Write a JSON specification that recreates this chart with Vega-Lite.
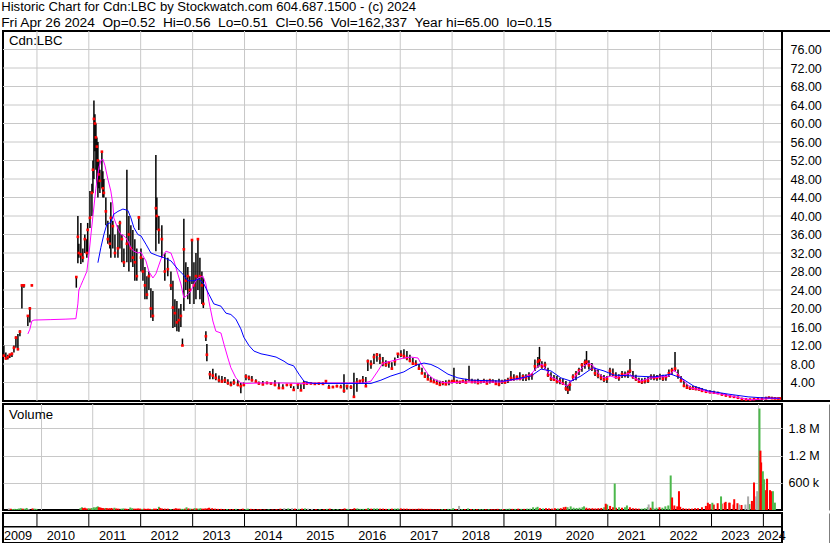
{
"$schema": "https://vega.github.io/schema/vega-lite/v6.json",
"background": "white",
"padding": {"left": 1, "top": 0, "right": 0, "bottom": 0},
"spacing": -1,
"resolve": {"scale": {"color": "independent"}},
"title": {"text": "Historic Chart for Cdn:LBC by Stockwatch.com 604.687.1500 - (c) 2024", "subtitle": "Fri Apr 26 2024\u00a0 Op=0.52\u00a0 Hi=0.56\u00a0 Lo=0.51\u00a0 Cl=0.56\u00a0 Vol=162,337\u00a0 Year hi=65.00\u00a0 lo=0.15", "anchor": "start", "frame": "bounds", "font": "Liberation Sans", "fontSize": 13.1, "fontWeight": "normal", "color": "black", "subtitleFont": "Liberation Sans", "subtitleFontSize": 13.7, "subtitleFontWeight": "normal", "subtitleColor": "black", "subtitlePadding": 2.1, "offset": -0.8},
"config": {
  "view": {"stroke": "black", "strokeWidth": 2},
  "font": "Liberation Sans",
  "axis": {"labelFont": "Liberation Sans", "labelColor": "black", "labelFontSize": 12.5, "labelOverlap": false, "gridColor": "#c8c8c8", "gridWidth": 1, "gridOpacity": 1, "domainColor": "black", "domainWidth": 2, "ticks": false, "tickSize": 0, "minExtent": 0}
},
"datasets": {
"px": [
{"d":"2009-05-13","h":12,"l":9.5,"c":9.8,"v":35000,"k":"n"},
{"d":"2009-05-27","h":10.5,"l":9,"c":9.2,"v":28000,"k":"d"},
{"d":"2009-06-10","h":10,"l":9,"c":9.5,"v":22000,"k":"u"},
{"d":"2009-06-24","h":10.2,"l":9.3,"c":10,"v":25000,"k":"u"},
{"d":"2009-07-09","h":10.5,"l":9.5,"c":10.2,"v":20000,"k":"u"},
{"d":"2009-07-23","h":12,"l":10.5,"c":11.5,"v":32000,"k":"u"},
{"d":"2009-08-06","h":14,"l":11.5,"c":13.7,"v":40000,"k":"u"},
{"d":"2009-08-20","h":14.5,"l":11,"c":11.2,"v":30000,"k":"d"},
{"d":"2009-09-03","h":15.3,"l":14,"c":15,"v":28000,"k":"u"},
{"d":"2009-09-17","h":25.1,"l":20,"c":25,"v":45000,"k":"u"},
{"d":"2009-10-01","h":25.2,"l":24.5,"c":25,"v":20000,"k":"n"},
{"d":"2009-10-29","h":18.6,"l":16.2,"c":18.4,"v":35000,"k":"d"},
{"d":"2009-11-12","h":20.3,"l":17,"c":20,"v":30000,"k":"u"},
{"d":"2009-11-26","h":25.1,"l":24.8,"c":25,"v":25000,"k":"u"},
{"d":"2010-10-05","h":27,"l":24.5,"c":26.8,"v":40000,"k":"u"},
{"d":"2010-10-16","h":40,"l":29.8,"c":35.5,"v":60000,"k":"u"},
{"d":"2010-10-23","h":34,"l":31,"c":32,"v":45000,"k":"d"},
{"d":"2010-11-06","h":38.5,"l":29.6,"c":31.7,"v":50000,"k":"d"},
{"d":"2010-11-20","h":33,"l":30,"c":31,"v":35000,"k":"d"},
{"d":"2010-12-04","h":36,"l":32,"c":35,"v":40000,"k":"u"},
{"d":"2010-12-18","h":35,"l":31,"c":32,"v":30000,"k":"d"},
{"d":"2010-12-24","h":38.5,"l":31.7,"c":37,"v":45000,"k":"u"},
{"d":"2011-01-09","h":45.4,"l":37.4,"c":39.6,"v":60000,"k":"u"},
{"d":"2011-01-23","h":47,"l":40,"c":45,"v":55000,"k":"u"},
{"d":"2011-01-30","h":52,"l":45,"c":50,"v":65000,"k":"u"},
{"d":"2011-02-06","h":65,"l":48,"c":61,"v":80000,"k":"u"},
{"d":"2011-02-13","h":62,"l":54,"c":60,"v":60000,"k":"d"},
{"d":"2011-02-20","h":60,"l":50,"c":57,"v":55000,"k":"d"},
{"d":"2011-02-27","h":57,"l":47,"c":55,"v":50000,"k":"d"},
{"d":"2011-03-06","h":56,"l":44,"c":52,"v":45000,"k":"d"},
{"d":"2011-03-13","h":52,"l":46,"c":49,"v":40000,"k":"d"},
{"d":"2011-03-20","h":50,"l":45,"c":47.6,"v":40000,"k":"d"},
{"d":"2011-04-03","h":54,"l":46,"c":53.9,"v":45000,"k":"u"},
{"d":"2011-04-10","h":49.7,"l":44,"c":46,"v":40000,"k":"d"},
{"d":"2011-04-17","h":48,"l":44,"c":45,"v":35000,"k":"d"},
{"d":"2011-05-01","h":44,"l":38,"c":41,"v":40000,"k":"d"},
{"d":"2011-05-15","h":39,"l":34,"c":35,"v":45000,"k":"d"},
{"d":"2011-05-29","h":36,"l":33,"c":34,"v":30000,"k":"d"},
{"d":"2011-06-05","h":43,"l":31,"c":39.6,"v":50000,"k":"u"},
{"d":"2011-06-19","h":39,"l":33,"c":37.8,"v":35000,"k":"d"},
{"d":"2011-07-04","h":36,"l":31,"c":32,"v":30000,"k":"d"},
{"d":"2011-07-25","h":38,"l":31,"c":33,"v":30000,"k":"u"},
{"d":"2011-08-08","h":39,"l":33,"c":38.5,"v":35000,"k":"u"},
{"d":"2011-08-22","h":36,"l":30,"c":35,"v":30000,"k":"d"},
{"d":"2011-09-05","h":33,"l":29,"c":30,"v":25000,"k":"d"},
{"d":"2011-09-26","h":50,"l":30,"c":34,"v":55000,"k":"u"},
{"d":"2011-10-10","h":40,"l":28,"c":36,"v":40000,"k":"u"},
{"d":"2011-10-24","h":38,"l":30,"c":33,"v":30000,"k":"d"},
{"d":"2011-11-07","h":37,"l":29,"c":31,"v":30000,"k":"d"},
{"d":"2011-11-21","h":35,"l":26,"c":30,"v":35000,"k":"d"},
{"d":"2011-12-05","h":33,"l":26,"c":27,"v":30000,"k":"d"},
{"d":"2011-12-19","h":40,"l":37,"c":39.7,"v":25000,"k":"u"},
{"d":"2012-01-03","h":33,"l":28,"c":31,"v":30000,"k":"d"},
{"d":"2012-01-17","h":31,"l":26,"c":28,"v":25000,"k":"d"},
{"d":"2012-01-31","h":29,"l":22,"c":25,"v":30000,"k":"d"},
{"d":"2012-02-14","h":27,"l":22,"c":23,"v":25000,"k":"d"},
{"d":"2012-02-28","h":28,"l":24,"c":27,"v":20000,"k":"u"},
{"d":"2012-03-13","h":24.4,"l":18,"c":20,"v":30000,"k":"d"},
{"d":"2012-03-27","h":23.8,"l":17.3,"c":18.4,"v":30000,"k":"d"},
{"d":"2012-04-17","h":53.2,"l":32.4,"c":41.7,"v":70000,"k":"u"},
{"d":"2012-04-24","h":44,"l":37,"c":40,"v":45000,"k":"d"},
{"d":"2012-05-08","h":40,"l":34,"c":37,"v":35000,"k":"d"},
{"d":"2012-05-29","h":38,"l":31,"c":35,"v":30000,"k":"d"},
{"d":"2012-06-19","h":32,"l":26,"c":28,"v":30000,"k":"d"},
{"d":"2012-07-10","h":31,"l":27,"c":28.5,"v":20000,"k":"u"},
{"d":"2012-08-01","h":28,"l":24,"c":25,"v":25000,"k":"d"},
{"d":"2012-08-15","h":26,"l":15.8,"c":20.2,"v":40000,"k":"d"},
{"d":"2012-08-29","h":22,"l":16,"c":19,"v":30000,"k":"d"},
{"d":"2012-09-12","h":21.6,"l":15.1,"c":17,"v":30000,"k":"d"},
{"d":"2012-09-26","h":20,"l":15,"c":17.5,"v":25000,"k":"u"},
{"d":"2012-10-10","h":21,"l":16,"c":18.4,"v":25000,"k":"u"},
{"d":"2012-10-21","h":13.5,"l":11.9,"c":12,"v":30000,"k":"d"},
{"d":"2012-10-31","h":39.4,"l":19.5,"c":32.8,"v":60000,"k":"u"},
{"d":"2012-11-14","h":30,"l":24,"c":26,"v":35000,"k":"d"},
{"d":"2012-11-28","h":29,"l":22,"c":27,"v":30000,"k":"u"},
{"d":"2012-12-12","h":27,"l":21,"c":24,"v":25000,"k":"d"},
{"d":"2012-12-27","h":35,"l":25.3,"c":34.8,"v":40000,"k":"u"},
{"d":"2013-01-10","h":30,"l":21,"c":25,"v":35000,"k":"d"},
{"d":"2013-01-24","h":32,"l":22,"c":27,"v":30000,"k":"u"},
{"d":"2013-02-07","h":35,"l":24,"c":35,"v":40000,"k":"u"},
{"d":"2013-02-21","h":31,"l":22,"c":27,"v":30000,"k":"d"},
{"d":"2013-03-07","h":28,"l":21,"c":25,"v":30000,"k":"d"},
{"d":"2013-03-17","h":26.6,"l":20.1,"c":21,"v":35000,"k":"d"},
{"d":"2013-04-04","h":15.1,"l":13,"c":14,"v":45000,"k":"d"},
{"d":"2013-04-11","h":12.3,"l":8.6,"c":10,"v":50000,"k":"d"},
{"d":"2013-05-02","h":6.5,"l":4.7,"c":5.8,"v":40000,"k":"d"},
{"d":"2013-05-23","h":7,"l":4.7,"c":5.5,"v":30000,"k":"d"},
{"d":"2013-06-13","h":6,"l":4.5,"c":5,"v":25000,"k":"d"},
{"d":"2013-07-05","h":5.5,"l":4,"c":4.5,"v":25000,"k":"d"},
{"d":"2013-07-26","h":5.4,"l":3.9,"c":4.2,"v":20000,"k":"d"},
{"d":"2013-08-16","h":5.2,"l":3.9,"c":4.5,"v":20000,"k":"u"},
{"d":"2013-09-06","h":4.7,"l":3.5,"c":3.9,"v":20000,"k":"d"},
{"d":"2013-09-27","h":4.2,"l":3.2,"c":3.5,"v":20000,"k":"d"},
{"d":"2013-10-18","h":4.7,"l":3.5,"c":4,"v":25000,"k":"u"},
{"d":"2013-11-15","h":4.5,"l":3.2,"c":3.5,"v":20000,"k":"d"},
{"d":"2013-12-06","h":3.9,"l":1.7,"c":3.2,"v":30000,"k":"d"},
{"d":"2013-12-27","h":4,"l":3.2,"c":3.5,"v":20000,"k":"u"},
{"d":"2014-01-11","h":5.8,"l":4.5,"c":5.3,"v":30000,"k":"u"},
{"d":"2014-02-01","h":5.5,"l":4.5,"c":5,"v":25000,"k":"d"},
{"d":"2014-02-22","h":5.4,"l":4.2,"c":4.5,"v":20000,"k":"d"},
{"d":"2014-03-22","h":4.7,"l":4,"c":4.2,"v":20000,"k":"d"},
{"d":"2014-04-12","h":4.2,"l":3.5,"c":3.8,"v":20000,"k":"d"},
{"d":"2014-05-10","h":4.3,"l":3.4,"c":3.6,"v":15000,"k":"d"},
{"d":"2014-06-08","h":4.2,"l":3.6,"c":3.9,"v":15000,"k":"u"},
{"d":"2014-07-06","h":4.1,"l":3.5,"c":3.8,"v":15000,"k":"d"},
{"d":"2014-08-03","h":4.5,"l":3.2,"c":3.5,"v":20000,"k":"d"},
{"d":"2014-08-31","h":4,"l":2.6,"c":2.8,"v":30000,"k":"d"},
{"d":"2014-09-28","h":3.6,"l":2.8,"c":2.8,"v":40000,"k":"n"},
{"d":"2014-10-26","h":3.6,"l":3.2,"c":3.5,"v":35000,"k":"u"},
{"d":"2014-11-23","h":3.7,"l":2.8,"c":3.5,"v":40000,"k":"n"},
{"d":"2014-12-13","h":3.2,"l":2.3,"c":2.4,"v":30000,"k":"d"},
{"d":"2015-01-12","h":3.7,"l":2.6,"c":3.6,"v":25000,"k":"u"},
{"d":"2015-02-02","h":3.6,"l":2.2,"c":2.3,"v":30000,"k":"d"},
{"d":"2015-02-23","h":4.3,"l":2.6,"c":3.8,"v":35000,"k":"u"},
{"d":"2015-03-16","h":4.2,"l":3.5,"c":3.8,"v":30000,"k":"n"},
{"d":"2015-04-13","h":3.9,"l":3.6,"c":3.8,"v":25000,"k":"n"},
{"d":"2015-05-11","h":3.9,"l":3.5,"c":3.7,"v":20000,"k":"d"},
{"d":"2015-06-08","h":3.9,"l":3.5,"c":3.8,"v":20000,"k":"u"},
{"d":"2015-07-07","h":4,"l":3.5,"c":3.7,"v":20000,"k":"d"},
{"d":"2015-07-28","h":4.4,"l":3.8,"c":4.3,"v":25000,"k":"u"},
{"d":"2015-08-18","h":3.5,"l":2.8,"c":2.9,"v":30000,"k":"d"},
{"d":"2015-09-15","h":3.3,"l":2.8,"c":3,"v":20000,"k":"u"},
{"d":"2015-10-13","h":3.5,"l":3,"c":3.2,"v":20000,"k":"u"},
{"d":"2015-11-10","h":3.5,"l":2.8,"c":3,"v":20000,"k":"d"},
{"d":"2015-12-02","h":5.8,"l":1.8,"c":2.2,"v":35000,"k":"d"},
{"d":"2015-12-23","h":3.5,"l":2.5,"c":3.2,"v":25000,"k":"u"},
{"d":"2016-01-20","h":3.4,"l":2.6,"c":3,"v":20000,"k":"d"},
{"d":"2016-02-10","h":6.1,"l":0.8,"c":0.9,"v":40000,"k":"d"},
{"d":"2016-03-02","h":5,"l":2,"c":4,"v":35000,"k":"u"},
{"d":"2016-03-23","h":4.6,"l":3.8,"c":4.3,"v":25000,"k":"u"},
{"d":"2016-04-13","h":5.4,"l":3.9,"c":4.5,"v":25000,"k":"u"},
{"d":"2016-05-04","h":5.2,"l":3.2,"c":3.2,"v":25000,"k":"d"},
{"d":"2016-05-18","h":9,"l":6.5,"c":8.6,"v":45000,"k":"u"},
{"d":"2016-06-09","h":8.8,"l":7,"c":8,"v":30000,"k":"d"},
{"d":"2016-06-30","h":10.2,"l":8,"c":9.5,"v":35000,"k":"u"},
{"d":"2016-07-21","h":10.4,"l":8.5,"c":10,"v":35000,"k":"u"},
{"d":"2016-08-11","h":10.2,"l":8,"c":9.2,"v":30000,"k":"d"},
{"d":"2016-09-01","h":9.5,"l":7.5,"c":8.2,"v":30000,"k":"d"},
{"d":"2016-09-22","h":8.8,"l":7.4,"c":7.8,"v":25000,"k":"d"},
{"d":"2016-10-13","h":8.6,"l":7.2,"c":8.3,"v":25000,"k":"u"},
{"d":"2016-11-03","h":8.4,"l":6.8,"c":7,"v":30000,"k":"d"},
{"d":"2016-11-24","h":9.4,"l":7.6,"c":8.6,"v":30000,"k":"u"},
{"d":"2016-12-15","h":10.4,"l":9.3,"c":10.2,"v":35000,"k":"u"},
{"d":"2017-01-06","h":11,"l":9.5,"c":10,"v":35000,"k":"d"},
{"d":"2017-01-27","h":11.2,"l":9.2,"c":9.7,"v":30000,"k":"d"},
{"d":"2017-02-17","h":10.8,"l":8.8,"c":9.3,"v":30000,"k":"d"},
{"d":"2017-03-10","h":10,"l":8.4,"c":8.7,"v":25000,"k":"d"},
{"d":"2017-03-31","h":9.3,"l":7.8,"c":8.1,"v":25000,"k":"d"},
{"d":"2017-04-21","h":8.8,"l":7.6,"c":8,"v":25000,"k":"d"},
{"d":"2017-05-13","h":8,"l":6.8,"c":7,"v":30000,"k":"d"},
{"d":"2017-06-03","h":7.2,"l":5.8,"c":6,"v":30000,"k":"d"},
{"d":"2017-06-24","h":6.2,"l":5,"c":5.3,"v":25000,"k":"d"},
{"d":"2017-07-15","h":5.8,"l":4.5,"c":4.7,"v":25000,"k":"d"},
{"d":"2017-08-05","h":5.2,"l":4.2,"c":4.3,"v":25000,"k":"d"},
{"d":"2017-08-26","h":4.8,"l":3.9,"c":4.1,"v":20000,"k":"d"},
{"d":"2017-09-16","h":4.6,"l":3.6,"c":3.8,"v":20000,"k":"d"},
{"d":"2017-10-07","h":4.4,"l":3.3,"c":3.5,"v":20000,"k":"d"},
{"d":"2017-10-28","h":4.3,"l":3.4,"c":3.9,"v":20000,"k":"u"},
{"d":"2017-11-18","h":4.5,"l":3.5,"c":3.6,"v":20000,"k":"d"},
{"d":"2017-12-10","h":4.6,"l":3.4,"c":4.1,"v":25000,"k":"u"},
{"d":"2017-12-31","h":4.6,"l":3.8,"c":4.2,"v":20000,"k":"u"},
{"d":"2018-01-14","h":7.2,"l":3.9,"c":4.3,"v":40000,"k":"u"},
{"d":"2018-02-04","h":4.6,"l":3.8,"c":4.1,"v":20000,"k":"d"},
{"d":"2018-02-25","h":4.4,"l":3.7,"c":4.1,"v":90000,"k":"n"},
{"d":"2018-03-18","h":4.6,"l":3.9,"c":4.3,"v":20000,"k":"u"},
{"d":"2018-04-08","h":4.8,"l":3.9,"c":4,"v":20000,"k":"d"},
{"d":"2018-04-30","h":7.6,"l":4.3,"c":4.5,"v":35000,"k":"u"},
{"d":"2018-05-21","h":4.8,"l":4,"c":4.1,"v":20000,"k":"d"},
{"d":"2018-06-11","h":4.6,"l":3.8,"c":4.3,"v":20000,"k":"u"},
{"d":"2018-07-02","h":4.8,"l":3.6,"c":3.9,"v":20000,"k":"d"},
{"d":"2018-07-23","h":4.5,"l":3.8,"c":4.2,"v":20000,"k":"u"},
{"d":"2018-08-13","h":4.8,"l":3.9,"c":4.3,"v":20000,"k":"u"},
{"d":"2018-09-03","h":4.6,"l":3.6,"c":3.8,"v":20000,"k":"d"},
{"d":"2018-09-24","h":4.8,"l":3.8,"c":4.4,"v":20000,"k":"u"},
{"d":"2018-10-15","h":4.7,"l":3.9,"c":4.2,"v":20000,"k":"d"},
{"d":"2018-11-05","h":4.5,"l":3.5,"c":3.7,"v":20000,"k":"d"},
{"d":"2018-11-27","h":4.8,"l":3.2,"c":3.6,"v":25000,"k":"d"},
{"d":"2018-12-18","h":4.6,"l":3.7,"c":4.2,"v":20000,"k":"u"},
{"d":"2019-01-08","h":4.7,"l":3.8,"c":4,"v":20000,"k":"d"},
{"d":"2019-01-29","h":5,"l":3.9,"c":4.5,"v":25000,"k":"u"},
{"d":"2019-02-19","h":6.5,"l":4.3,"c":5,"v":30000,"k":"u"},
{"d":"2019-03-12","h":5.8,"l":4.4,"c":4.8,"v":25000,"k":"d"},
{"d":"2019-04-02","h":5.5,"l":4.5,"c":5.2,"v":25000,"k":"u"},
{"d":"2019-04-23","h":6.2,"l":4.5,"c":4.8,"v":30000,"k":"d"},
{"d":"2019-05-15","h":5.8,"l":4.3,"c":5.3,"v":25000,"k":"u"},
{"d":"2019-06-05","h":5.8,"l":4.3,"c":5,"v":25000,"k":"d"},
{"d":"2019-06-26","h":6.2,"l":4.5,"c":5.5,"v":30000,"k":"u"},
{"d":"2019-07-17","h":6,"l":4.6,"c":5.6,"v":30000,"k":"u"},
{"d":"2019-08-07","h":9,"l":6.5,"c":7.5,"v":60000,"k":"u"},
{"d":"2019-08-28","h":9.5,"l":7.2,"c":8.5,"v":50000,"k":"u"},
{"d":"2019-09-08","h":11.7,"l":7.5,"c":8.8,"v":70000,"k":"u"},
{"d":"2019-09-25","h":8.6,"l":7,"c":7.5,"v":40000,"k":"d"},
{"d":"2019-10-17","h":8.5,"l":6.9,"c":7.8,"v":35000,"k":"u"},
{"d":"2019-11-07","h":7.2,"l":5.2,"c":5.6,"v":40000,"k":"d"},
{"d":"2019-11-28","h":6.2,"l":4.3,"c":4.8,"v":35000,"k":"d"},
{"d":"2019-12-19","h":5.6,"l":4.3,"c":4.6,"v":30000,"k":"d"},
{"d":"2020-01-09","h":5.4,"l":3.8,"c":4.2,"v":40000,"k":"d"},
{"d":"2020-01-30","h":5,"l":3.6,"c":4.3,"v":35000,"k":"u"},
{"d":"2020-02-20","h":4.8,"l":3.5,"c":3.8,"v":40000,"k":"d"},
{"d":"2020-03-12","h":4.3,"l":2.2,"c":2.7,"v":60000,"k":"d"},
{"d":"2020-03-26","h":3.5,"l":1.5,"c":2.4,"v":70000,"k":"d"},
{"d":"2020-04-09","h":4.2,"l":2.2,"c":3.5,"v":60000,"k":"u"},
{"d":"2020-05-01","h":5.8,"l":4.3,"c":5.2,"v":80000,"k":"u"},
{"d":"2020-05-22","h":6.5,"l":4.5,"c":5.8,"v":50000,"k":"u"},
{"d":"2020-06-12","h":7.2,"l":5.6,"c":6.6,"v":45000,"k":"u"},
{"d":"2020-07-03","h":8.2,"l":6.3,"c":7.8,"v":50000,"k":"u"},
{"d":"2020-07-24","h":9,"l":7,"c":8.3,"v":60000,"k":"u"},
{"d":"2020-08-04","h":10.8,"l":7.8,"c":8.5,"v":80000,"k":"u"},
{"d":"2020-08-21","h":8.8,"l":6.8,"c":7.7,"v":50000,"k":"d"},
{"d":"2020-09-11","h":8.2,"l":6.5,"c":7,"v":40000,"k":"d"},
{"d":"2020-10-03","h":7.2,"l":5.4,"c":6,"v":40000,"k":"d"},
{"d":"2020-10-24","h":6.8,"l":4.9,"c":5.5,"v":35000,"k":"d"},
{"d":"2020-11-14","h":5.8,"l":4.5,"c":5,"v":40000,"k":"d"},
{"d":"2020-12-05","h":5.6,"l":4.1,"c":4.6,"v":45000,"k":"d"},
{"d":"2020-12-26","h":5.4,"l":3.9,"c":4.8,"v":60000,"k":"u"},
{"d":"2021-01-16","h":7.2,"l":5.4,"c":6.5,"v":120000,"k":"u"},
{"d":"2021-02-06","h":7,"l":5.4,"c":5.8,"v":90000,"k":"d"},
{"d":"2021-02-27","h":6.2,"l":4.8,"c":5.2,"v":60000,"k":"d"},
{"d":"2021-03-20","h":5.8,"l":4.4,"c":5,"v":50000,"k":"d"},
{"d":"2021-04-11","h":6.5,"l":5,"c":5.8,"v":60000,"k":"u"},
{"d":"2021-05-02","h":6.4,"l":5.1,"c":5.6,"v":50000,"k":"d"},
{"d":"2021-05-23","h":6.6,"l":5,"c":6,"v":60000,"k":"u"},
{"d":"2021-06-06","h":9.1,"l":6,"c":6.5,"v":100000,"k":"u"},
{"d":"2021-06-27","h":6.5,"l":4.8,"c":5.2,"v":60000,"k":"d"},
{"d":"2021-07-18","h":5.7,"l":4.3,"c":4.7,"v":40000,"k":"d"},
{"d":"2021-08-08","h":5,"l":3.9,"c":4.2,"v":35000,"k":"d"},
{"d":"2021-08-29","h":4.9,"l":3.7,"c":4.1,"v":30000,"k":"d"},
{"d":"2021-09-19","h":5,"l":3.8,"c":4.3,"v":30000,"k":"u"},
{"d":"2021-10-11","h":5.2,"l":3.9,"c":4.4,"v":40000,"k":"u"},
{"d":"2021-11-01","h":5.8,"l":4.6,"c":5.2,"v":60000,"k":"u"},
{"d":"2021-11-22","h":5.8,"l":4.5,"c":5,"v":50000,"k":"d"},
{"d":"2021-12-13","h":5.6,"l":4.4,"c":5,"v":40000,"k":"n"},
{"d":"2022-01-03","h":5.9,"l":4.6,"c":5.3,"v":50000,"k":"u"},
{"d":"2022-01-24","h":5.7,"l":4.3,"c":4.8,"v":60000,"k":"d"},
{"d":"2022-02-14","h":5.6,"l":4.4,"c":5.2,"v":50000,"k":"u"},
{"d":"2022-03-07","h":6.8,"l":5.2,"c":6,"v":80000,"k":"u"},
{"d":"2022-03-28","h":7.2,"l":5.6,"c":6.6,"v":100000,"k":"u"},
{"d":"2022-04-19","h":10.6,"l":6.4,"c":7,"v":150000,"k":"u"},
{"d":"2022-05-10","h":6.8,"l":4.8,"c":5.5,"v":100000,"k":"d"},
{"d":"2022-05-31","h":5.4,"l":4,"c":4.4,"v":80000,"k":"d"},
{"d":"2022-06-21","h":4.4,"l":3,"c":3.3,"v":70000,"k":"d"},
{"d":"2022-07-12","h":3.6,"l":2.6,"c":2.9,"v":40000,"k":"d"},
{"d":"2022-08-02","h":3.3,"l":2.4,"c":2.8,"v":30000,"k":"d"},
{"d":"2022-08-23","h":3.3,"l":2.5,"c":2.7,"v":30000,"k":"d"},
{"d":"2022-09-13","h":3.2,"l":2.3,"c":2.6,"v":30000,"k":"d"},
{"d":"2022-10-05","h":3,"l":2.2,"c":2.5,"v":40000,"k":"d"},
{"d":"2022-10-26","h":2.8,"l":2,"c":2.2,"v":40000,"k":"d"},
{"d":"2022-11-23","h":2.5,"l":1.8,"c":2,"v":60000,"k":"d"},
{"d":"2022-12-21","h":2.3,"l":1.7,"c":1.9,"v":90000,"k":"d"},
{"d":"2023-01-18","h":2.2,"l":1.6,"c":1.8,"v":130000,"k":"d"},
{"d":"2023-02-15","h":2,"l":1.5,"c":1.7,"v":120000,"k":"d"},
{"d":"2023-03-15","h":1.7,"l":1.2,"c":1.4,"v":150000,"k":"d"},
{"d":"2023-04-12","h":1.5,"l":1,"c":1.2,"v":140000,"k":"d"},
{"d":"2023-05-11","h":1.3,"l":0.8,"c":1,"v":180000,"k":"d"},
{"d":"2023-06-08","h":1.1,"l":0.7,"c":0.9,"v":160000,"k":"d"},
{"d":"2023-07-06","h":0.9,"l":0.5,"c":0.7,"v":120000,"k":"d"},
{"d":"2023-08-03","h":0.7,"l":0.3,"c":0.4,"v":150000,"k":"d"},
{"d":"2023-09-01","h":0.6,"l":0.2,"c":0.3,"v":110000,"k":"d"},
{"d":"2023-09-29","h":0.5,"l":0.15,"c":0.3,"v":120000,"k":"n"},
{"d":"2023-10-27","h":0.6,"l":0.3,"c":0.4,"v":130000,"k":"u"},
{"d":"2023-11-24","h":0.7,"l":0.3,"c":0.5,"v":200000,"k":"u"},
{"d":"2023-12-22","h":0.8,"l":0.4,"c":0.5,"v":415000,"k":"n"},
{"d":"2024-01-19","h":0.9,"l":0.4,"c":0.6,"v":1050000,"k":"d"},
{"d":"2024-02-09","h":1,"l":0.5,"c":0.7,"v":677000,"k":"u"},
{"d":"2024-03-01","h":0.9,"l":0.5,"c":0.6,"v":690000,"k":"d"},
{"d":"2024-03-22","h":0.8,"l":0.5,"c":0.55,"v":438000,"k":"d"},
{"d":"2024-04-12","h":0.6,"l":0.5,"c":0.53,"v":415000,"k":"u"},
{"d":"2024-04-26","h":0.56,"l":0.51,"c":0.56,"v":162337,"k":"u"}
],
"vx": [
{"d":"2021-01-06","v":138000,"k":"d"},
{"d":"2021-03-11","v":584000,"k":"u"},
{"d":"2021-11-08","v":122000,"k":"n"},
{"d":"2021-12-06","v":185000,"k":"u"},
{"d":"2022-04-14","v":762000,"k":"u"},
{"d":"2022-04-24","v":277000,"k":"d"},
{"d":"2022-06-12","v":415000,"k":"d"},
{"d":"2023-01-04","v":160000,"k":"d"},
{"d":"2023-02-05","v":160000,"k":"u"},
{"d":"2023-04-08","v":300000,"k":"u"},
{"d":"2023-05-04","v":160000,"k":"d"},
{"d":"2023-06-06","v":160000,"k":"d"},
{"d":"2023-07-11","v":238000,"k":"d"},
{"d":"2023-08-15","v":120000,"k":"n"},
{"d":"2023-10-18","v":300000,"k":"n"},
{"d":"2023-11-14","v":200000,"k":"d"},
{"d":"2023-11-29","v":607000,"k":"d"},
{"d":"2023-12-15","v":300000,"k":"n"},
{"d":"2024-01-07","v":2240000,"k":"u"},
{"d":"2024-01-14","v":1310000,"k":"d"},
{"d":"2024-01-31","v":854000,"k":"u"},
{"d":"2024-02-23","v":438000,"k":"d"},
{"d":"2024-03-29","v":415000,"k":"d"}
],
"ma": [
{"d":"2009-10-29","m":"s","p":14.5},{"d":"2009-11-12","m":"s","p":15.5},{"d":"2009-11-26","m":"s","p":17.3},{"d":"2009-12-11","m":"s","p":17.5},
{"d":"2010-04-09","m":"s","p":17.6},{"d":"2010-07-24","m":"s","p":17.7},{"d":"2010-10-02","m":"s","p":17.8},{"d":"2010-10-16","m":"s","p":21},
{"d":"2010-10-23","m":"s","p":24},{"d":"2010-11-06","m":"s","p":25},{"d":"2010-11-20","m":"s","p":26},{"d":"2010-12-04","m":"s","p":27},
{"d":"2010-12-18","m":"s","p":28},{"d":"2011-01-02","m":"s","p":31.7},{"d":"2011-01-16","m":"s","p":36},{"d":"2011-01-30","m":"s","p":40},
{"d":"2011-02-20","m":"s","p":46},{"d":"2011-03-13","m":"s","p":50.5},{"d":"2011-03-27","m":"s","p":52},{"d":"2011-04-10","m":"s","p":52.3},
{"d":"2011-04-24","m":"s","p":51},{"d":"2011-05-15","m":"s","p":48},{"d":"2011-06-05","m":"s","p":45.4},{"d":"2011-06-19","m":"s","p":42.6},
{"d":"2011-06-26","m":"s","p":39.6},{"d":"2011-07-25","m":"s","p":37.2},{"d":"2011-08-15","m":"s","p":36},{"d":"2011-09-05","m":"s","p":35.7},
{"d":"2011-09-19","m":"s","p":35.3},{"d":"2011-10-10","m":"s","p":34.2},{"d":"2011-10-24","m":"s","p":33},{"d":"2011-11-14","m":"s","p":32.4},
{"d":"2011-12-12","m":"s","p":32},{"d":"2012-01-03","m":"s","p":32.2},{"d":"2012-01-17","m":"s","p":31.4},{"d":"2012-02-07","m":"s","p":30.3},
{"d":"2012-02-28","m":"s","p":28},{"d":"2012-03-27","m":"s","p":26.6},{"d":"2012-04-17","m":"s","p":27.5},{"d":"2012-05-23","m":"s","p":30.7},
{"d":"2012-06-27","m":"s","p":32.4},{"d":"2012-08-01","m":"s","p":32},{"d":"2012-08-22","m":"s","p":30.3},{"d":"2012-09-19","m":"s","p":27.4},
{"d":"2012-10-10","m":"s","p":25.3},{"d":"2012-10-31","m":"s","p":22.3},{"d":"2012-11-28","m":"s","p":23},{"d":"2012-12-20","m":"s","p":23.8},
{"d":"2013-01-10","m":"s","p":25.3},{"d":"2013-02-07","m":"s","p":26.6},{"d":"2013-03-14","m":"s","p":27},{"d":"2013-04-04","m":"s","p":25.3},
{"d":"2013-04-25","m":"s","p":21.6},{"d":"2013-05-23","m":"s","p":17.3},{"d":"2013-06-13","m":"s","p":15.1},{"d":"2013-07-19","m":"s","p":14.7},
{"d":"2013-08-09","m":"s","p":12.3},{"d":"2013-09-06","m":"s","p":9.3},{"d":"2013-09-27","m":"s","p":7.2},{"d":"2013-11-01","m":"s","p":5},
{"d":"2013-12-06","m":"s","p":3.9},{"d":"2014-01-11","m":"s","p":3.8},{"d":"2014-04-27","m":"s","p":3.9},{"d":"2014-09-15","m":"s","p":3.9},
{"d":"2015-02-02","m":"s","p":3.8},{"d":"2015-09-01","m":"s","p":3.9},{"d":"2016-02-24","m":"s","p":3.9},{"d":"2016-04-20","m":"s","p":3.9},
{"d":"2016-06-09","m":"s","p":4.3},{"d":"2016-07-28","m":"s","p":6.5},{"d":"2016-09-01","m":"s","p":8.2},{"d":"2016-10-27","m":"s","p":8.6},
{"d":"2017-01-27","m":"s","p":9.3},{"d":"2017-03-17","m":"s","p":9.5},{"d":"2017-05-06","m":"s","p":9.3},{"d":"2017-05-27","m":"s","p":8.1},
{"d":"2017-07-15","m":"s","p":5.8},{"d":"2017-08-26","m":"s","p":4.7},{"d":"2017-10-14","m":"s","p":4.1},{"d":"2017-12-03","m":"s","p":3.9},
{"d":"2018-03-04","m":"s","p":4.1},{"d":"2018-07-23","m":"s","p":4.1},{"d":"2018-12-11","m":"s","p":4.1},{"d":"2019-02-19","m":"s","p":4.5},
{"d":"2019-05-01","m":"s","p":4.8},{"d":"2019-07-11","m":"s","p":5.8},{"d":"2019-08-28","m":"s","p":7.5},{"d":"2019-09-25","m":"s","p":8},
{"d":"2019-10-24","m":"s","p":6.8},{"d":"2019-11-28","m":"s","p":5.2},{"d":"2020-01-02","m":"s","p":4.7},{"d":"2020-02-06","m":"s","p":4},
{"d":"2020-03-19","m":"s","p":3.2},{"d":"2020-05-01","m":"s","p":4.7},{"d":"2020-06-12","m":"s","p":6.5},{"d":"2020-07-17","m":"s","p":7.6},
{"d":"2020-08-21","m":"s","p":8.2},{"d":"2020-09-18","m":"s","p":7.7},{"d":"2020-10-24","m":"s","p":6.1},{"d":"2020-12-05","m":"s","p":5},
{"d":"2021-01-23","m":"s","p":5.4},{"d":"2021-02-27","m":"s","p":5},{"d":"2021-04-03","m":"s","p":5.4},{"d":"2021-05-30","m":"s","p":6},
{"d":"2021-07-04","m":"s","p":5},{"d":"2021-08-22","m":"s","p":4.3},{"d":"2021-11-01","m":"s","p":5},{"d":"2022-01-10","m":"s","p":5.2},
{"d":"2022-03-07","m":"s","p":5.4},{"d":"2022-04-12","m":"s","p":6.7},{"d":"2022-05-10","m":"s","p":5.8},{"d":"2022-06-21","m":"s","p":4.3},
{"d":"2022-08-09","m":"s","p":2.8},{"d":"2022-10-19","m":"s","p":2.4},{"d":"2022-12-28","m":"s","p":1.8},{"d":"2023-03-08","m":"s","p":1.5},
{"d":"2023-05-18","m":"s","p":1.1},{"d":"2023-07-27","m":"s","p":0.6},{"d":"2023-10-06","m":"s","p":0.25},{"d":"2023-12-15","m":"s","p":0.4},
{"d":"2024-02-23","m":"s","p":0.55},{"d":"2024-04-26","m":"s","p":0.55},
{"d":"2011-03-06","m":"l","p":29.9},{"d":"2011-03-27","m":"l","p":33.2},{"d":"2011-04-17","m":"l","p":36},{"d":"2011-05-08","m":"l","p":38.2},
{"d":"2011-06-05","m":"l","p":38.6},{"d":"2011-06-26","m":"l","p":40.4},{"d":"2011-07-25","m":"l","p":41},{"d":"2011-08-29","m":"l","p":41.5},
{"d":"2011-10-03","m":"l","p":41.2},{"d":"2011-10-24","m":"l","p":39.6},{"d":"2011-11-14","m":"l","p":37.5},{"d":"2011-12-12","m":"l","p":36},
{"d":"2012-01-03","m":"l","p":35.7},{"d":"2012-02-07","m":"l","p":33.9},{"d":"2012-03-13","m":"l","p":32},{"d":"2012-05-01","m":"l","p":31.4},
{"d":"2012-06-12","m":"l","p":31},{"d":"2012-08-01","m":"l","p":30.3},{"d":"2012-09-19","m":"l","p":28.5},{"d":"2012-10-24","m":"l","p":27.4},
{"d":"2012-11-28","m":"l","p":26},{"d":"2013-01-10","m":"l","p":26},{"d":"2013-02-14","m":"l","p":26.4},{"d":"2013-03-21","m":"l","p":25.3},
{"d":"2013-04-25","m":"l","p":23.1},{"d":"2013-05-30","m":"l","p":21},{"d":"2013-07-19","m":"l","p":20.5},{"d":"2013-08-23","m":"l","p":19},
{"d":"2013-09-27","m":"l","p":18.7},{"d":"2013-11-01","m":"l","p":17.7},{"d":"2013-12-06","m":"l","p":15.6},{"d":"2013-12-27","m":"l","p":13.8},
{"d":"2014-02-01","m":"l","p":12},{"d":"2014-03-08","m":"l","p":10.8},{"d":"2014-04-27","m":"l","p":10.2},{"d":"2014-06-15","m":"l","p":9.9},
{"d":"2014-08-11","m":"l","p":9.5},{"d":"2014-10-06","m":"l","p":8.6},{"d":"2014-11-03","m":"l","p":8},{"d":"2014-12-13","m":"l","p":7.6},
{"d":"2015-01-19","m":"l","p":5.8},{"d":"2015-02-23","m":"l","p":4.3},{"d":"2015-03-23","m":"l","p":4},{"d":"2015-05-04","m":"l","p":3.8},
{"d":"2015-11-10","m":"l","p":3.8},{"d":"2016-06-09","m":"l","p":3.8},{"d":"2016-08-18","m":"l","p":4.5},{"d":"2016-10-27","m":"l","p":5.4},
{"d":"2017-01-27","m":"l","p":6.3},{"d":"2017-03-17","m":"l","p":7.2},{"d":"2017-05-06","m":"l","p":7.9},{"d":"2017-06-17","m":"l","p":8.2},
{"d":"2017-08-05","m":"l","p":7.9},{"d":"2017-09-23","m":"l","p":7.2},{"d":"2017-12-03","m":"l","p":5.8},{"d":"2018-02-11","m":"l","p":5},
{"d":"2018-05-14","m":"l","p":4.5},{"d":"2019-01-01","m":"l","p":4.3},{"d":"2019-05-01","m":"l","p":5},{"d":"2019-07-11","m":"l","p":5.4},
{"d":"2019-09-19","m":"l","p":6.9},{"d":"2019-11-28","m":"l","p":6.5},{"d":"2020-02-06","m":"l","p":5},{"d":"2020-04-17","m":"l","p":4.3},
{"d":"2020-06-26","m":"l","p":5.4},{"d":"2020-09-18","m":"l","p":7.2},{"d":"2020-12-05","m":"l","p":6.5},{"d":"2021-02-13","m":"l","p":5.6},
{"d":"2021-07-04","m":"l","p":5.4},{"d":"2021-11-22","m":"l","p":5.2},{"d":"2022-03-21","m":"l","p":5.8},{"d":"2022-05-31","m":"l","p":5},
{"d":"2022-08-30","m":"l","p":3.2},{"d":"2022-12-07","m":"l","p":2.2},{"d":"2023-04-27","m":"l","p":1.5},{"d":"2023-09-15","m":"l","p":0.9},
{"d":"2023-12-15","m":"l","p":0.7},{"d":"2024-04-26","m":"l","p":0.6}
],
"gy": [
{"g":4},{"g":8},{"g":12},{"g":16},{"g":20},{"g":24},{"g":28},{"g":32},{"g":36},{"g":40},
{"g":44},{"g":48},{"g":52},{"g":56},{"g":60},{"g":64},{"g":68},{"g":72},{"g":76}
],
"yb": [
{"d":"2010-01-01"},{"d":"2011-01-01"},{"d":"2012-01-01"},{"d":"2013-01-01"},{"d":"2014-01-01"},
{"d":"2015-01-01"},{"d":"2016-01-01"},{"d":"2017-01-01"},{"d":"2018-01-01"},{"d":"2019-01-01"},
{"d":"2020-01-01"},{"d":"2021-01-01"},{"d":"2022-01-01"},{"d":"2023-01-01"},{"d":"2024-01-01"}
],
"yl": [
{"d":"2009-08-21","t":"2009"},{"d":"2010-06-18","t":"2010"},{"d":"2011-06-18","t":"2011"},{"d":"2012-06-18","t":"2012"},
{"d":"2013-06-18","t":"2013"},{"d":"2014-06-18","t":"2014"},{"d":"2015-06-18","t":"2015"},{"d":"2016-06-18","t":"2016"},
{"d":"2017-06-18","t":"2017"},{"d":"2018-06-18","t":"2018"},{"d":"2019-06-18","t":"2019"},{"d":"2020-06-18","t":"2020"},
{"d":"2021-06-18","t":"2021"},{"d":"2022-06-18","t":"2022"},{"d":"2023-06-18","t":"2023"},{"d":"2024-02-28","t":"2024"}
]
},
"vconcat": [
{
  "width": 828, "height": 370,
  "title": {"text": "Cdn:LBC", "anchor": "start", "frame": "group", "offset": -18, "dx": 6, "font": "Liberation Sans", "fontSize": 13.2, "fontWeight": "normal", "color": "black"},
  "layer": [
    {"data": {"name": "gy"}, "mark": {"type": "rule", "color": "#c8c8c8", "strokeWidth": 1},
     "encoding": {
       "x": {"datum": {"year": 2009, "month": 5, "date": 7, "utc": true}, "type": "temporal", "axis": null, "scale": {"domain": [{"year": 2009, "month": 5, "date": 7, "utc": true}, {"year": 2024, "month": 5, "date": 11, "utc": true}], "range": [0, 779], "nice": false}},
       "x2": {"datum": {"year": 2024, "month": 5, "date": 11, "utc": true}},
       "y": {"field": "g", "type": "quantitative", "scale": {"domain": [0, 80], "nice": false},
             "axis": {"orient": "right", "offset": 0, "values": [4,8,12,16,20,24,28,32,36,40,44,48,52,56,60,64,68,72,76], "tickCount": 20, "format": ".2f", "labelPadding": -41, "labelAlign": "left", "labelBaseline": "middle", "labelOverlap": false, "grid": false, "domain": false, "title": null}}
     }},
    {"data": {"name": "yb"}, "mark": {"type": "rule", "color": "#c8c8c8", "strokeWidth": 1},
     "encoding": {"x": {"field": "d", "type": "temporal", "axis": null}}},
    {"data": {"values": [{}]}, "mark": {"type": "rule", "color": "black", "strokeWidth": 2},
     "encoding": {"x": {"datum": {"year": 2024, "month": 5, "date": 11, "utc": true}, "type": "temporal", "axis": null}}},
    {"data": {"name": "px"}, "mark": {"type": "rule", "color": "black", "strokeWidth": 1.5},
     "encoding": {
       "x": {"field": "d", "type": "temporal", "axis": null},
       "y": {"field": "l", "type": "quantitative"},
       "y2": {"field": "h"}
     }},
    {"data": {"name": "px"}, "mark": {"type": "square", "color": "#ff0000", "size": 7, "opacity": 1},
     "encoding": {"x": {"field": "d", "type": "temporal", "axis": null}, "y": {"field": "c", "type": "quantitative"}}},
    {"data": {"name": "ma"}, "mark": {"type": "line", "strokeWidth": 1},
     "encoding": {"x": {"field": "d", "type": "temporal", "axis": null}, "y": {"field": "p", "type": "quantitative"},
                  "color": {"field": "m", "type": "nominal", "scale": {"domain": ["s", "l"], "range": ["#ff00ff", "#0000ff"]}, "legend": null}}}
  ]
},
{
  "width": 779, "height": 106,
  "title": {"text": "Volume", "anchor": "start", "frame": "group", "offset": -19, "dx": 6, "font": "Liberation Sans", "fontSize": 13.2, "fontWeight": "normal", "color": "black"},
  "layer": [
    {"data": {"name": "yb"}, "mark": {"type": "rule", "color": "#c8c8c8", "strokeWidth": 1},
     "encoding": {"x": {"field": "d", "type": "temporal", "axis": null, "scale": {"domain": [{"year": 2009, "month": 5, "date": 7, "utc": true}, {"year": 2024, "month": 5, "date": 11, "utc": true}], "nice": false}}}},
    {"data": {"name": "px"}, "mark": {"type": "bar", "width": 2},
     "encoding": {
       "x": {"field": "d", "type": "temporal", "axis": null},
       "y": {"field": "v", "type": "quantitative", "scale": {"domain": [0, 2340000], "nice": false},
             "axis": {"orient": "right", "offset": 48, "values": [600000, 1200000, 1800000], "tickCount": 5, "labelExpr": "datum.value >= 1000000 ? format(datum.value / 1000000, '.1f') + ' M' : format(datum.value / 1000, 'd') + ' k'", "labelPadding": -42, "labelAlign": "left", "labelBaseline": "middle", "labelOverlap": false, "grid": true, "domain": true, "title": null}},
       "color": {"field": "k", "type": "nominal", "scale": {"domain": ["u", "d", "n"], "range": ["#4cb84c", "#ff0000", "#aaaaaa"]}, "legend": null}
     }},
    {"data": {"name": "vx"}, "mark": {"type": "bar", "width": 2},
     "encoding": {"x": {"field": "d", "type": "temporal", "axis": null}, "y": {"field": "v", "type": "quantitative"},
                  "color": {"field": "k", "type": "nominal", "legend": null}}}
  ]
},
{
  "width": 779, "height": 30,
  "layer": [
    {"data": {"name": "yb"}, "mark": {"type": "rule", "color": "black", "strokeWidth": 1},
     "encoding": {
       "x": {"field": "d", "type": "temporal", "scale": {"domain": [{"year": 2009, "month": 5, "date": 7, "utc": true}, {"year": 2024, "month": 5, "date": 11, "utc": true}], "nice": false}, "axis": null},
       "y": {"datum": 16.2, "type": "quantitative", "scale": {"domain": [0, 30], "nice": false},
             "axis": {"orient": "right", "offset": 48, "labels": false, "grid": false, "domain": true, "title": null}},
       "y2": {"datum": 30}
     }},
    {"data": {"values": [{}]}, "mark": {"type": "rule", "color": "black", "strokeWidth": 1.5},
     "encoding": {"y": {"datum": 16.2, "type": "quantitative"}}},
    {"data": {"name": "yl"}, "mark": {"type": "text", "font": "Liberation Sans", "fontSize": 12.7, "align": "center", "baseline": "alphabetic", "color": "black"},
     "encoding": {"x": {"field": "d", "type": "temporal", "axis": null}, "y": {"datum": 3, "type": "quantitative"}, "text": {"field": "t"}}}
  ]
}
]
}
